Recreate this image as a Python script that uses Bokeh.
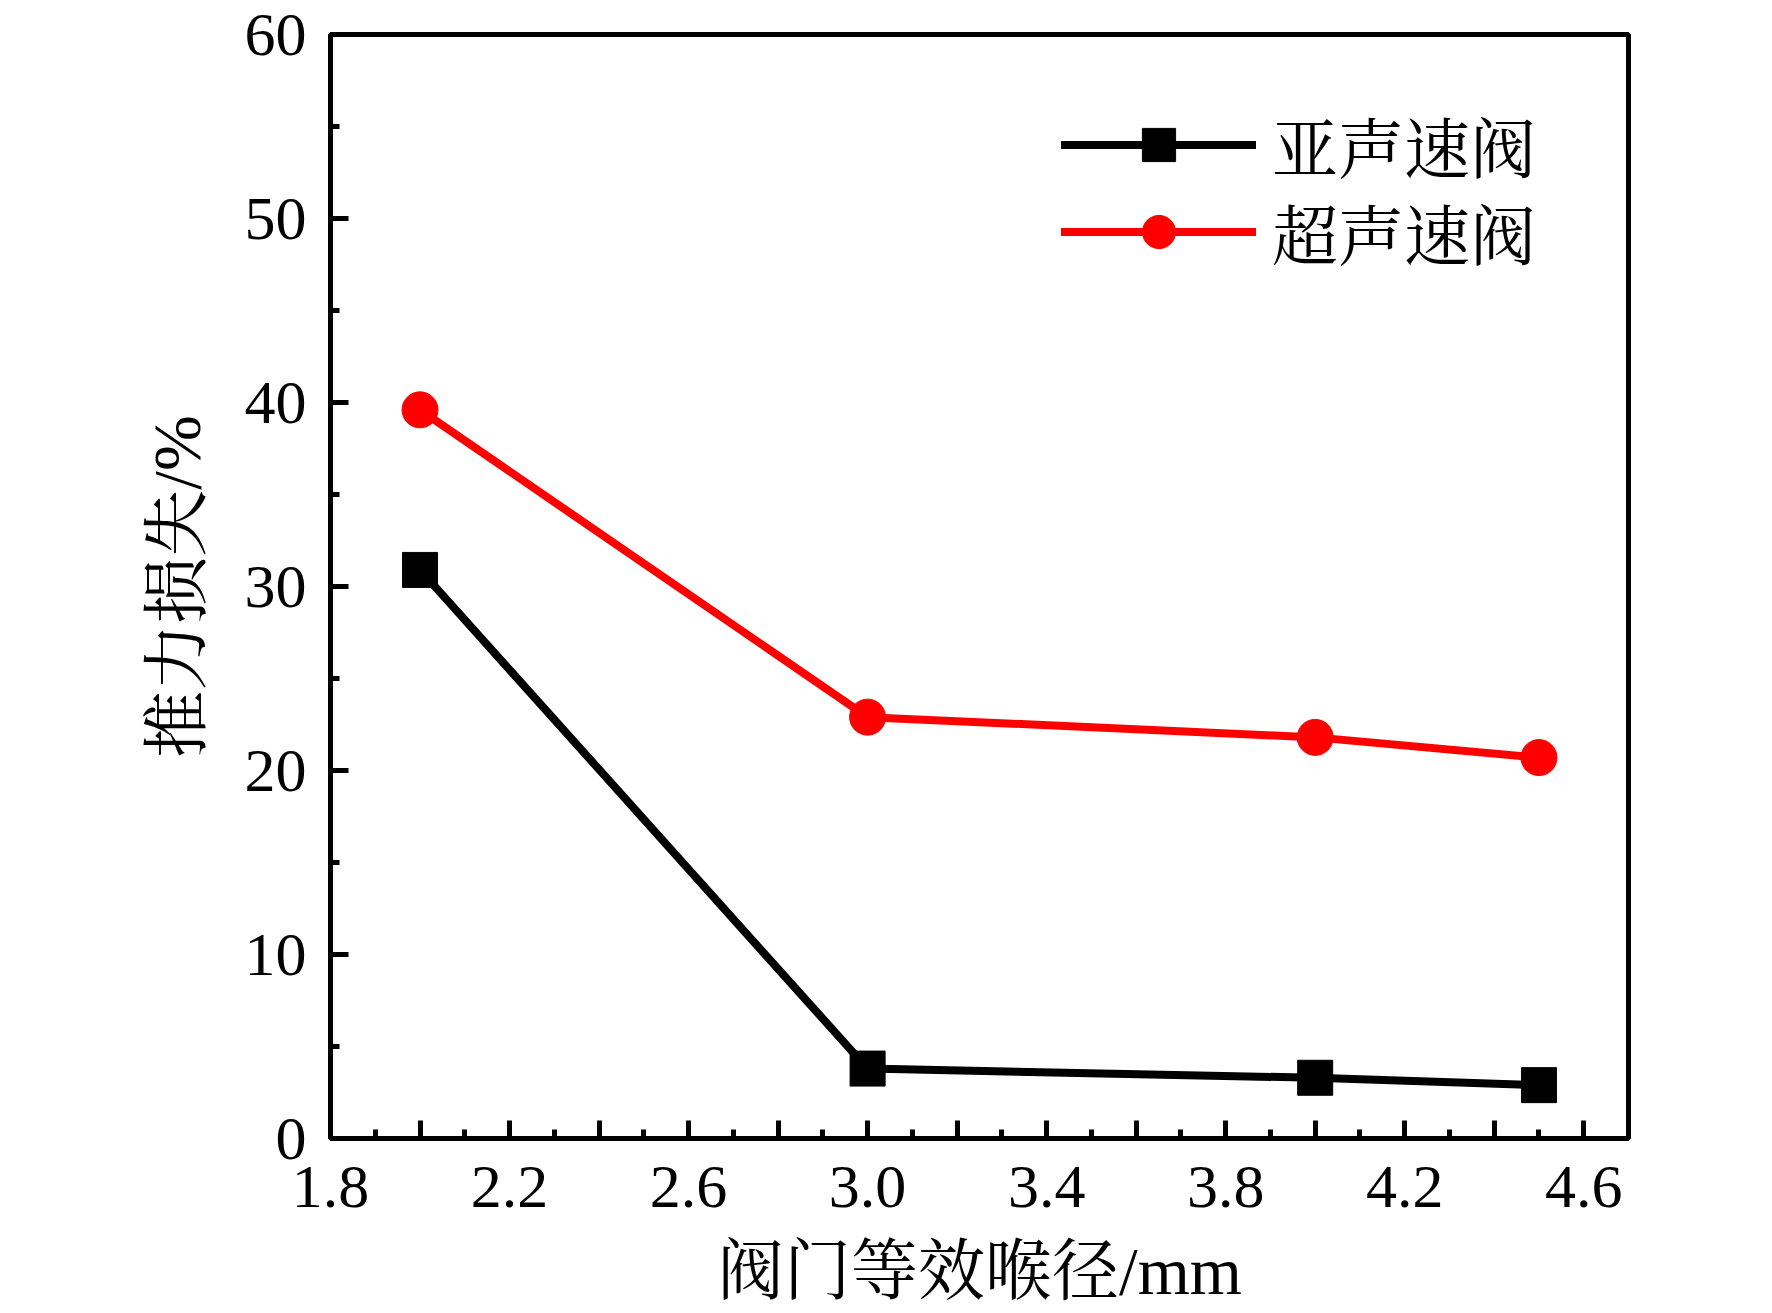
from bokeh.plotting import figure
from bokeh.models import (Range1d, SingleIntervalTicker, CustomJSTickFormatter,
                          Legend, LegendItem)
from bokeh.embed import file_html
from bokeh.resources import INLINE

# ---- data ----
x_vals = [2.0, 3.0, 4.0, 4.5]
subsonic = [30.9, 3.8, 3.3, 2.9]
supersonic = [39.6, 22.9, 21.8, 20.7]
label_sub = "亚声速阀"
label_sup = "超声速阀"
x_title = "阀门等效喉径/mm"
y_title = "推力损失/%"

FONT = "'Liberation Serif', 'Noto Serif CJK SC', 'Noto Sans CJK SC', serif"

p = figure(width=1764, height=1313, output_backend="svg", toolbar_location=None,
           x_range=Range1d(1.8, 4.7), y_range=Range1d(0, 60),
           min_border_left=330, min_border_right=136, min_border_top=34,
           min_border_bottom=175)
p.background_fill_color = "white"
p.border_fill_color = "white"
p.outline_line_color = "black"
p.outline_line_width = 5
p.xgrid.visible = False
p.ygrid.visible = False

p.xaxis.ticker = SingleIntervalTicker(interval=0.2, num_minor_ticks=2)
p.xaxis.formatter = CustomJSTickFormatter(
    code="var k = Math.round(tick*10); return (k % 4 == 2) ? tick.toFixed(1) : '';")
p.yaxis.ticker = SingleIntervalTicker(interval=10, num_minor_ticks=2)

for ax in (p.xaxis[0], p.yaxis[0]):
    ax.axis_line_width = 5
    ax.axis_line_color = "black"
    ax.major_tick_line_width = 5
    ax.minor_tick_line_width = 5
    ax.major_tick_in = 18
    ax.major_tick_out = 0
    ax.minor_tick_in = 9
    ax.minor_tick_out = 0
    ax.major_label_text_font = FONT
    ax.major_label_text_font_size = "62px"
    ax.major_label_text_color = "black"
    ax.axis_label_text_font = FONT
    ax.axis_label_text_font_size = "67px"
    ax.axis_label_text_font_style = "normal"
    ax.axis_label_text_color = "black"

p.xaxis.axis_label = x_title
p.yaxis.axis_label = y_title
p.xaxis.major_label_standoff = 28
p.yaxis.major_label_standoff = 24
p.xaxis.axis_label_standoff = 24
p.yaxis.axis_label_standoff = 28

l1 = p.line(x_vals, subsonic, line_color="black", line_width=8, line_cap="round",
            line_join="round")
s1 = p.scatter(x_vals, subsonic, marker="square", size=35, fill_color="black",
               line_color="black")
l2 = p.line(x_vals, supersonic, line_color="#ff0000", line_width=8, line_cap="round",
            line_join="round")
s2 = p.scatter(x_vals, supersonic, marker="circle", size=36, fill_color="#ff0000",
               line_color="#ff0000")


def make_legend(label, renderers, loc):
    lg = Legend(items=[LegendItem(label=label, renderers=renderers)], location=loc)
    lg.border_line_color = None
    lg.background_fill_alpha = 0
    lg.padding = 0
    lg.margin = 0
    lg.spacing = 0
    lg.glyph_width = 195
    lg.glyph_height = 83
    lg.label_standoff = 16
    lg.label_text_font = FONT
    lg.label_text_font_size = "66px"
    lg.label_text_color = "black"
    return lg


p.add_layout(make_legend(label_sub, [l1, s1], (731, 946)))
p.add_layout(make_legend(label_sup, [l2, s2], (731, 859)))

open("out.html", "w").write(file_html(p, INLINE))
